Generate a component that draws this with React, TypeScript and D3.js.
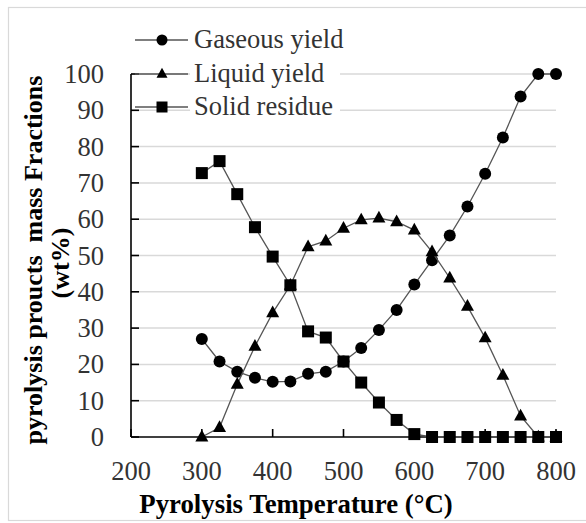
import React from "react";
import * as d3 from "d3";

const temperatures = [300, 325, 350, 375, 400, 425, 450, 475, 500, 525, 550, 575, 600, 625, 650, 675, 700, 725, 750, 775, 800];
const gaseousYield = [27, 20.8, 18, 16.3, 15.2, 15.3, 17.4, 18, 20.8, 24.5, 29.5, 35, 42, 48.7, 55.5, 63.5, 72.5, 82.5, 93.8, 100, 100];
const liquidYield = [0, 2.6, 14.5, 25, 34.2, 41.8, 52.4, 54, 57.5, 59.8, 60.3, 59.3, 57, 51, 43.8, 36, 27.3, 17, 5.8, 0, 0];
const solidResidue = [72.7, 76, 66.9, 57.8, 49.7, 41.8, 29.1, 27.4, 20.8, 15, 9.5, 4.7, 0.8, 0, 0, 0, 0, 0, 0, 0, 0];
const xTicks = [200, 300, 400, 500, 600, 700, 800];
const yTicks = [0, 10, 20, 30, 40, 50, 60, 70, 80, 90, 100];
const seriesNames = ["Gaseous yield", "Liquid yield", "Solid residue"];
const xTitle = "Pyrolysis Temperature (°C)";
const yTitle1 = "pyrolysis proucts  mass Fractions";
const yTitle2 = "(wt%)";

const W = 586;
const H = 523;
const FONT = "'Liberation Serif', 'Times New Roman', serif";

type Shape = "circle" | "triangle" | "square";

function Marker({ shape, x, y, s }: { shape: Shape; x: number; y: number; s: number }) {
  if (shape === "circle") return <circle cx={x} cy={y} r={s / 2} fill="#000" />;
  if (shape === "square") return <rect x={x - s / 2} y={y - s / 2} width={s} height={s} fill="#000" />;
  const h = s * 0.9;
  return (
    <path
      d={`M${x},${y - h * 0.62} L${x + s / 2},${y + h * 0.38} L${x - s / 2},${y + h * 0.38} Z`}
      fill="#000"
    />
  );
}

export default function App() {
  const x = d3.scaleLinear().domain([200, 800]).range([131, 556]);
  const y = d3.scaleLinear().domain([0, 100]).range([437, 74]);

  const series: { name: string; values: number[]; shape: Shape }[] = [
    { name: seriesNames[0], values: gaseousYield, shape: "circle" },
    { name: seriesNames[1], values: liquidYield, shape: "triangle" },
    { name: seriesNames[2], values: solidResidue, shape: "square" },
  ];

  const line = d3
    .line<number>()
    .x((_, i) => x(temperatures[i]))
    .y((d) => y(d));

  const legendY = [40, 74, 107];

  return (
    <svg
      width={W}
      height={H}
      style={{ position: "absolute", left: 0, top: 0, background: "#fff" }}
      fontFamily={FONT}
    >
      <rect x={8.5} y={7.5} width={582} height={513} fill="#fff" stroke="#d9d9d9" strokeWidth={1.2} />

      {/* gridlines */}
      {yTicks
        .filter((t) => t > 0)
        .map((t) => (
          <line key={t} x1={x(200)} x2={x(800)} y1={y(t)} y2={y(t)} stroke="#d9d9d9" strokeWidth={1.5} />
        ))}

      {/* legend background */}
      <rect x={190} y={24} width={150} height={98} fill="#fff" />

      {/* axes */}
      <line x1={x(200)} x2={x(200)} y1={y(100)} y2={y(0)} stroke="#000" strokeWidth={1.6} />
      <line x1={x(200)} x2={x(800)} y1={y(0)} y2={y(0)} stroke="#000" strokeWidth={1.6} />
      {yTicks.map((t) => (
        <line key={t} x1={x(200)} x2={x(200) + 8} y1={y(t)} y2={y(t)} stroke="#000" strokeWidth={1.6} />
      ))}
      {xTicks.map((t) => (
        <line key={t} x1={x(t)} x2={x(t)} y1={y(0)} y2={y(0) - 8} stroke="#000" strokeWidth={1.6} />
      ))}

      {/* tick labels */}
      {yTicks.map((t) => (
        <text key={t} x={104} y={y(t)} dy="0.34em" textAnchor="end" fontSize={26.5} fill="#333">
          {t}
        </text>
      ))}
      {xTicks.map((t) => (
        <text key={t} x={x(t)} y={480} textAnchor="middle" fontSize={26.5} fill="#333">
          {t}
        </text>
      ))}

      {/* series */}
      {series.map((s) => (
        <g key={s.name}>
          <path d={line(s.values) || ""} fill="none" stroke="#555" strokeWidth={1.3} />
          {s.values.map((v, i) => (
            <Marker key={i} shape={s.shape} x={x(temperatures[i])} y={y(v)} s={s.shape === "triangle" ? 13 : 12} />
          ))}
        </g>
      ))}

      {/* legend */}
      {series.map((s, i) => (
        <g key={s.name}>
          <line x1={135} x2={188} y1={legendY[i]} y2={legendY[i]} stroke="#555" strokeWidth={1.3} />
          <Marker shape={s.shape} x={162} y={legendY[i]} s={11} />
          <text x={194} y={legendY[i]} dy="0.32em" fontSize={26.5} fill="#333">
            {s.name}
          </text>
        </g>
      ))}

      {/* axis titles */}
      <text x={296} y={513} textAnchor="middle" fontSize={26.8} fontWeight="bold" fill="#000">
        {xTitle}
      </text>
      <text
        transform={`translate(33,260) rotate(-90)`}
        textAnchor="middle"
        dy="0.35em"
        fontSize={26}
        fontWeight="bold"
        fill="#000"
        style={{ whiteSpace: "pre" }}
      >
        {yTitle1}
      </text>
      <text
        transform={`translate(60,263) rotate(-90)`}
        textAnchor="middle"
        dy="0.35em"
        fontSize={26}
        fontWeight="bold"
        fill="#000"
      >
        {yTitle2}
      </text>
    </svg>
  );
}
